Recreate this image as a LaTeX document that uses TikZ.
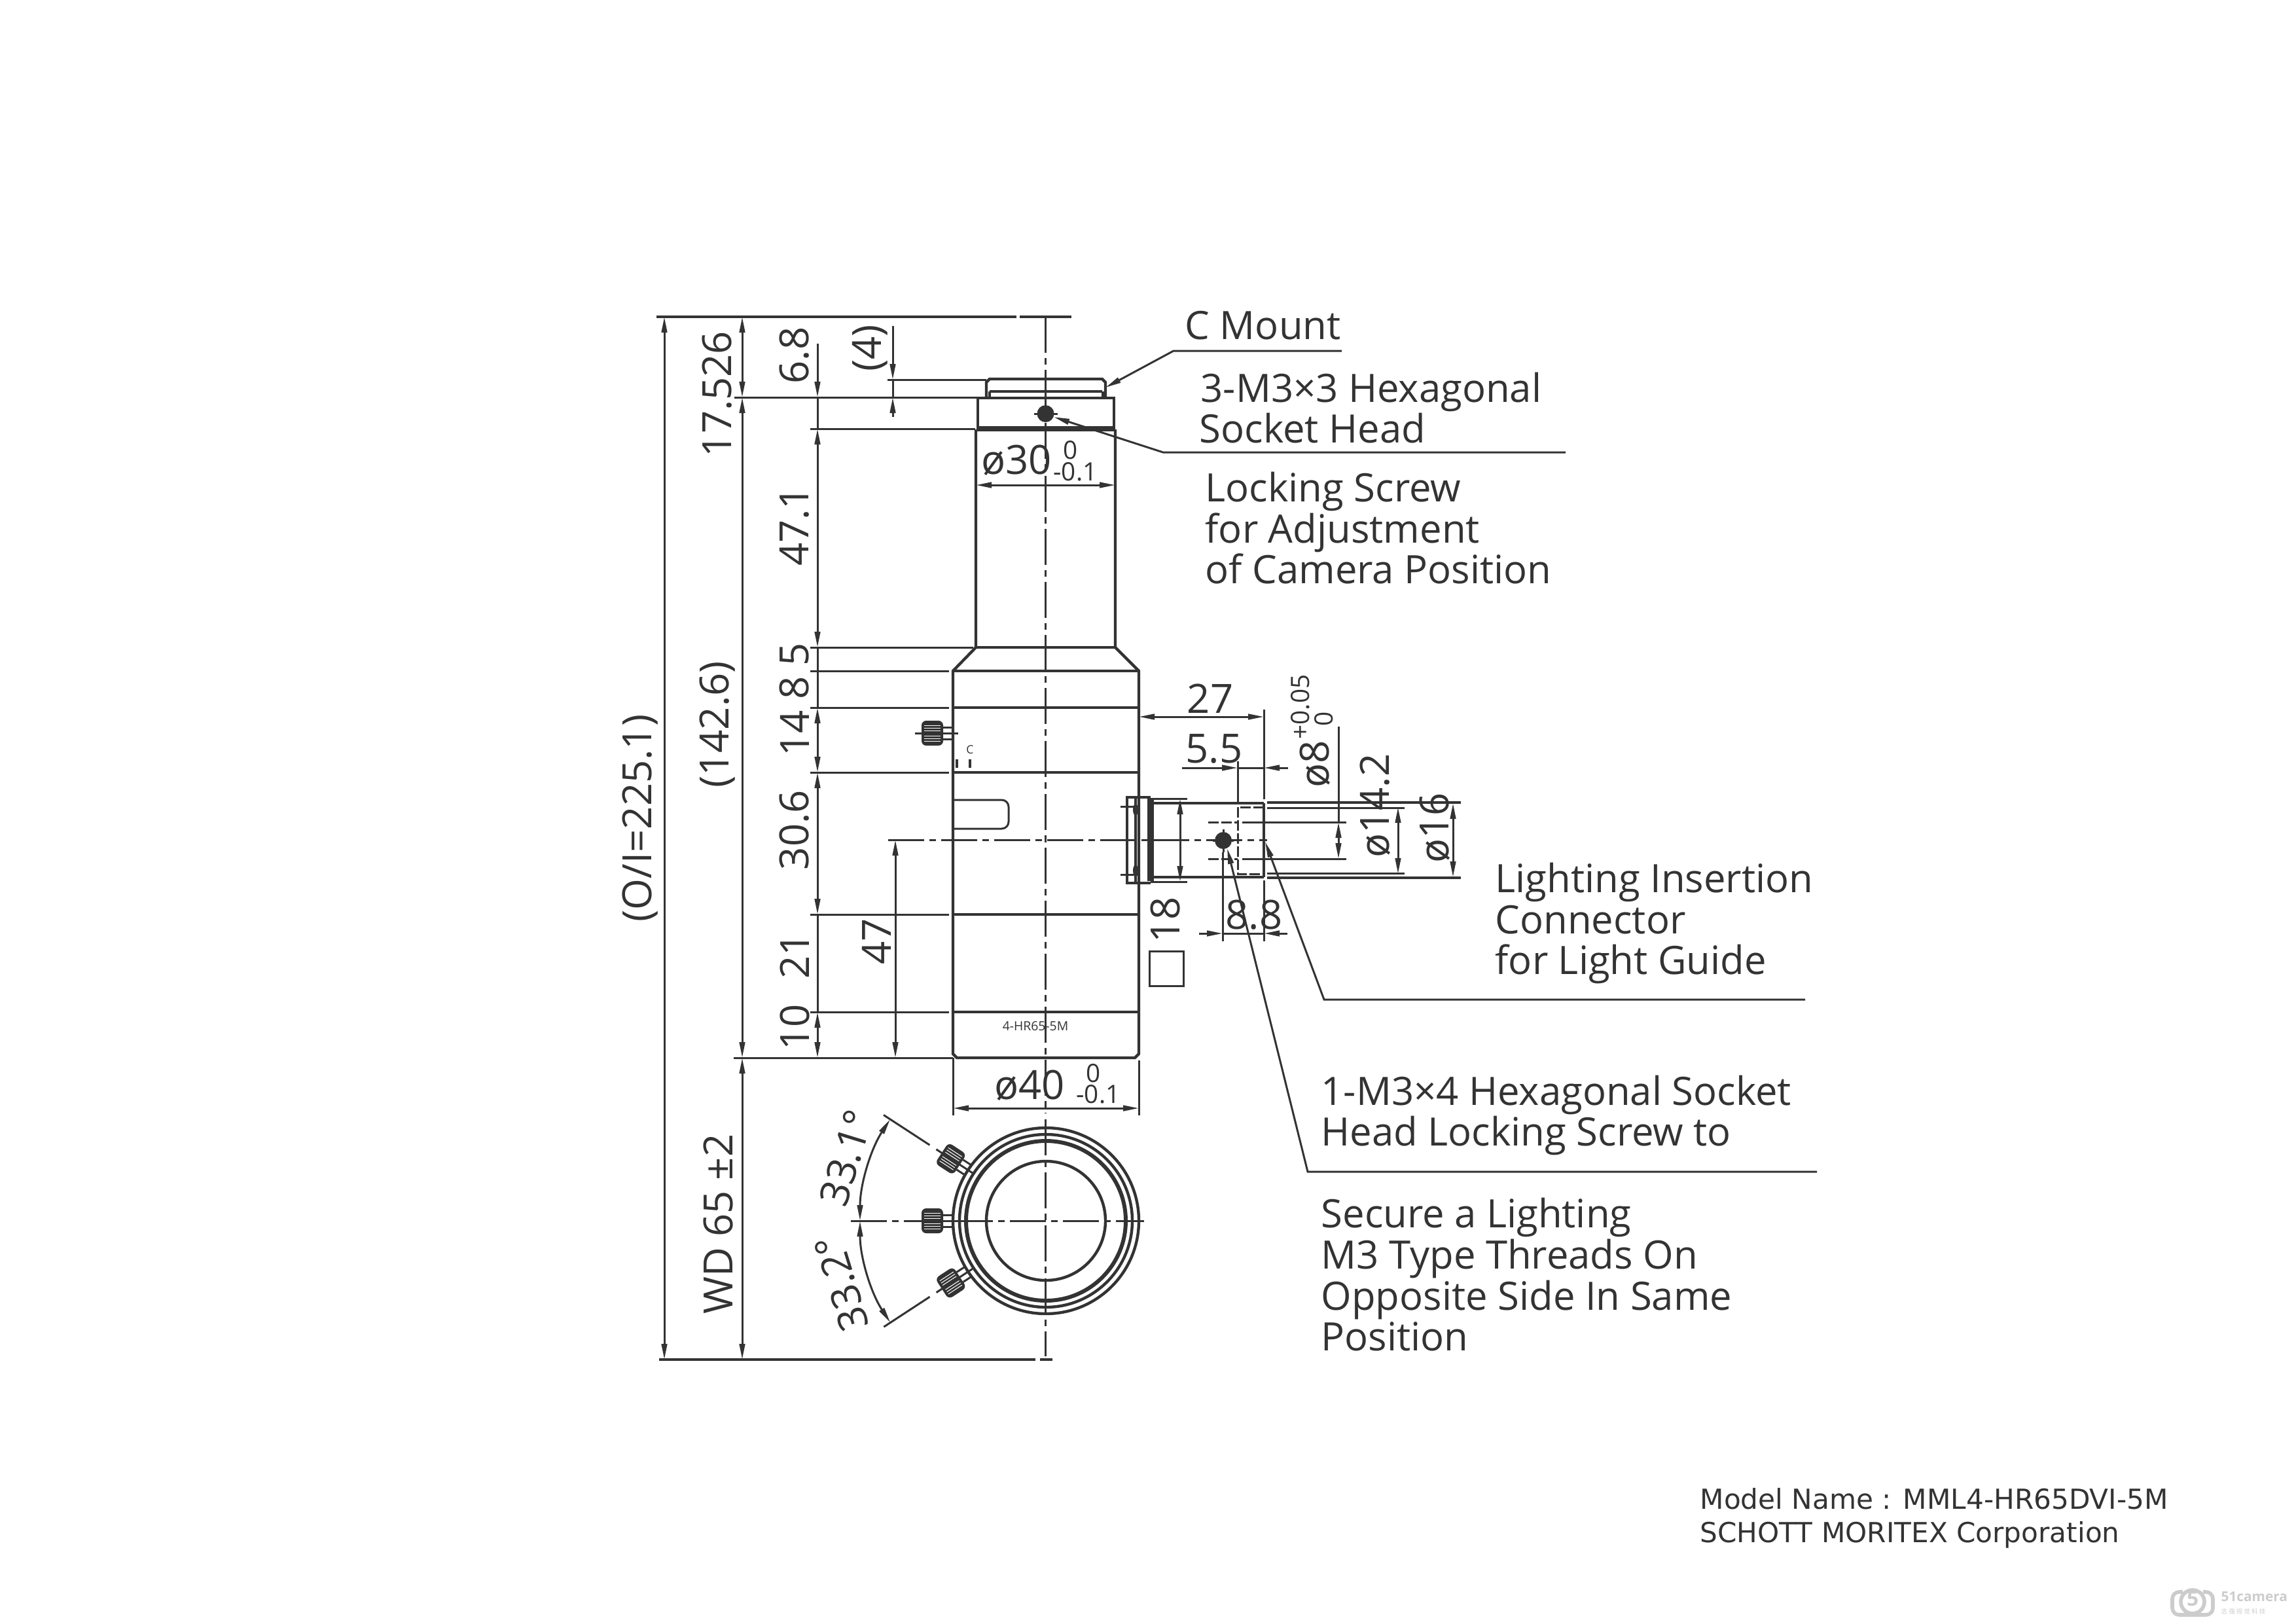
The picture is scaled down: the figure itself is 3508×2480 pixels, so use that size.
\documentclass[tikz,border=0pt]{standalone}
\usepackage{fontspec}
\setmainfont{Open Sans}
\newfontfamily\modelfont{DejaVu Sans}
\newfontfamily\markfont{Noto Sans CJK SC}
\usetikzlibrary{arrows.meta}
\definecolor{ink}{HTML}{333333}
\definecolor{markgray}{HTML}{CCCCCC}

\tikzset{
  outline/.style={line width=1.25pt, color=ink},
  thin line/.style={line width=0.85pt, color=ink},
  dim/.style={thin line, {Triangle[length=0.24cm,width=0.085cm]}-{Triangle[length=0.24cm,width=0.085cm]}},
  tipend/.style={thin line, -{Triangle[length=0.24cm,width=0.085cm]}},
  axis/.style={thin line, dash pattern=on 0.55cm off 0.08cm on 0.1cm off 0.08cm},
  hidden/.style={thin line, dash pattern=on 0.16cm off 0.04cm},
  dimtext/.style={inner sep=0pt, text=ink, font=\fontsize{17.5}{20}\selectfont},
  toltext/.style={inner sep=0pt, text=ink, font=\fontsize{11}{12}\selectfont},
  calltext/.style={inner sep=0pt, text=ink, anchor=base west, font=\fontsize{17}{20}\selectfont},
  modeltext/.style={inner sep=0pt, text=ink, anchor=base west, font=\modelfont\fontsize{12}{14}\selectfont},
  setscrew/.pic={
    \fill[ink, rounded corners=2pt] (-190,-19) rectangle (-157,19);
    \foreach \k in {-12,-8,...,12}
      \draw[white, line width=0.3pt] (-186,\k) -- (-161,\k);
    \draw[thin line] (-157,-9) -- (-142,-9);
    \draw[thin line] (-157,9) -- (-142,9);
    \draw[thin line] (-200,0) -- (-134,0);
  }
}

\begin{document}
\begin{tikzpicture}[x=0.01cm, y=-0.01cm]
  \useasboundingbox (0,0) rectangle (3508,2480);

  % lens body
  \draw[outline] (1507,607) -- (1507,584) -- (1512,579) -- (1684,579) -- (1689,584) -- (1689,607);
  \draw[outline] (1512,598) -- (1684,598);
  \draw[outline] (1512,598) -- (1512,607);
  \draw[outline] (1685,598) -- (1685,607);
  \draw[outline] (1494,655) -- (1494,608) -- (1702,608) -- (1702,655);
  \draw[line width=2.4pt, ink] (1492,655) -- (1704,655);
  \draw[outline] (1491,656) -- (1491,989) -- (1456,1025) -- (1456,1610) -- (1462,1616) -- (1734,1616) -- (1740,1610) -- (1740,1025) -- (1704,989) -- (1704,656);
  \draw[outline] (1491,989) -- (1704,989);
  \foreach \y in {1025,1081,1180,1397,1546}
    \draw[outline] (1456,\y) -- (1740,\y);

  % slot and small marks
  \draw[thin line, rounded corners=3pt] (1456,1222) -- (1541,1222) -- (1541,1266) -- (1456,1266);
  \node[inner sep=0pt, text=ink, font=\fontsize{5}{6}\selectfont] at (1482,1145) (cmark) {C};
  \fill[ink] (1460,1160) rectangle (1464,1173);
  \fill[ink] (1480,1160) rectangle (1484,1173);
  \node[inner sep=0pt, text=ink, font=\fontsize{5.5}{6}\selectfont] at (1582,1568) (engrave) {4-HR65-5M};

  % light guide port
  \draw[outline] (1722,1218) rectangle (1735,1349);
  \draw[line width=2.6pt, ink] (1758,1220) -- (1758,1346);
  \draw[outline] (1722,1218) -- (1758,1218);
  \draw[outline] (1722,1349) -- (1758,1349);
  \draw[thin line] (1758,1220) -- (1814,1220);
  \draw[thin line] (1758,1347) -- (1814,1347);
  \draw[thin line] (1712,1232) -- (1741,1232);
  \draw[thin line] (1712,1336) -- (1741,1336);
  \fill[ink] (1735,1237) ellipse (4 and 9);
  \fill[ink] (1735,1330) ellipse (4 and 9);
  \draw[outline] (1759,1227) -- (1931,1227);
  \draw[outline] (1936,1226) -- (2232,1226);
  \draw[outline] (1759,1340) -- (1931,1340);
  \draw[outline] (1936,1341) -- (2232,1341);
  \draw[thin line] (1936,1234) -- (2146,1234);
  \draw[thin line] (1936,1334) -- (2146,1334);
  \draw[hidden] (1931,1233) -- (1891,1233) -- (1891,1335) -- (1931,1335);
  \draw[hidden] (1846,1256) -- (1891,1256);
  \draw[hidden] (1846,1312) -- (1891,1312);
  \draw[thin line] (1898,1256) -- (2057,1256);
  \draw[thin line] (1898,1312) -- (2057,1312);
  \draw[outline] (1931,1227) -- (1931,1340);
  \draw[axis] (1357,1283) -- (1936,1283);
  \draw[thin line] (1869,1267) -- (1869,1302);
  \fill[ink] (1869,1284) ellipse (13 and 13);
  \draw[thin line] (1853,1284) -- (1885,1284);

  % centre line and adjustment screw
  \draw[axis] (1597.5,484) -- (1597.5,1700);
  \draw[axis] (1597.5,1710) -- (1597.5,2072);
  \fill[ink] (1597.5,632) ellipse (13 and 13);
  \draw[thin line] (1580,632) -- (1616,632);
  \pic at (1598,1120) {setscrew};

  % end view
  \coordinate (hub) at (1598,1865);
  \draw[outline] (hub) circle[radius=142];
  \draw[outline] (hub) circle[radius=132];
  \draw[line width=1.7pt, ink] (hub) circle[radius=122];
  \draw[outline] (hub) circle[radius=91];
  \pic at (hub) {setscrew};
  \pic[rotate=-33.1] at (hub) {setscrew};
  \pic[rotate=33.2] at (hub) {setscrew};
  \draw[axis] (1300,1865) -- (1748,1865);

  % angle marks
  \draw[thin line] (hub) ++(213.1:296) -- ++(33.1:84);
  \draw[thin line] (hub) ++(146.8:296) -- ++(-33.2:84);
  \draw[dim] (hub) ++(180:284) arc[start angle=180, end angle=213.1, radius=284];
  \draw[dim] (hub) ++(180:284) arc[start angle=180, end angle=146.8, radius=284];
  \node[dimtext, rotate=73] at (1293,1769) (angup) {33.1°};
  \node[dimtext, rotate=107] at (1286,1961) (angdown) {33.2°};

  % extension lines
  \draw[outline] (1003,484) -- (1553,484);
  \draw[outline] (1558,484) -- (1637,484);
  \draw[thin line] (1356,580) -- (1507,580);
  \draw[thin line] (1122,607) -- (1492,607);
  \draw[thin line] (1238,655) -- (1490,655);
  \draw[thin line] (1238,989) -- (1487,989);
  \draw[thin line] (1238,1025) -- (1450,1025);
  \draw[thin line] (1238,1081) -- (1450,1081);
  \draw[thin line] (1238,1180) -- (1450,1180);
  \draw[thin line] (1238,1397) -- (1450,1397);
  \draw[thin line] (1238,1546) -- (1450,1546);
  \draw[thin line] (1121,1616) -- (1456,1616);
  \draw[outline] (1007,2077) -- (1582,2077);
  \draw[outline] (1589,2077) -- (1608,2077);
  \draw[thin line] (1456,1616) -- (1456,1704);
  \draw[thin line] (1740,1620) -- (1740,1704);
  \draw[thin line] (1931,1084) -- (1931,1221);
  \draw[thin line] (1931,1345) -- (1931,1438);
  \draw[thin line] (1891,1163) -- (1891,1227);
  \draw[thin line] (1868,1302) -- (1868,1438);

  % vertical dimensions
  \draw[dim] (1015,484) -- (1015,2077);
  \draw[dim] (1134,484) -- (1134,607);
  \draw[dim] (1134,607) -- (1134,1616);
  \draw[dim] (1134,1616) -- (1134,2077);
  \draw[tipend] (1249,525) -- (1249,607);
  \draw[dim] (1249,655) -- (1249,989);
  \draw[thin line] (1249,607) -- (1249,655);
  \draw[thin line] (1249,989) -- (1249,1081);
  \draw[dim] (1249,1081) -- (1249,1180);
  \draw[dim] (1249,1180) -- (1249,1397);
  \draw[thin line] (1249,1397) -- (1249,1546);
  \draw[dim] (1249,1546) -- (1249,1616);
  \draw[tipend] (1364,498) -- (1364,580);
  \draw[tipend] (1364,637) -- (1364,607);
  \draw[thin line] (1364,580) -- (1364,607);
  \draw[dim] (1368,1283) -- (1368,1616);
  \draw[dim] (1803,1220) -- (1803,1347);
  \draw[thin line] (2045,1110) -- (2045,1256);
  \draw[dim] (2045,1256) -- (2045,1312);
  \draw[dim] (2136,1233) -- (2136,1335);
  \draw[dim] (2220,1227) -- (2220,1340);

  % horizontal dimensions
  \draw[dim] (1491,741) -- (1704,741);
  \draw[dim] (1456,1693) -- (1740,1693);
  \draw[dim] (1740,1095) -- (1931,1095);
  \draw[tipend] (1806,1173) -- (1891,1173);
  \draw[tipend] (1968,1173) -- (1931,1173);
  \draw[thin line] (1891,1173) -- (1931,1173);
  \draw[tipend] (1832,1426) -- (1868,1426);
  \draw[tipend] (1967,1426) -- (1931,1426);
  \draw[thin line] (1868,1426) -- (1931,1426);

  % dimension values
  \node[dimtext, rotate=90] at (978,1250) (overall) {(O/I=225.1)};
  \node[dimtext, rotate=90] at (1096,602) (flange) {17.526};
  \node[dimtext, rotate=90] at (1096,1107) (length) {(142.6)};
  \node[dimtext, rotate=90] at (1098,1870) (wd) {WD 65 ±2};
  \node[dimtext, rotate=90] at (1214,543) (mount) {6.8};
  \node[dimtext, rotate=90] at (1329,532) (screwpos) {(4)};
  \node[dimtext, rotate=90] at (1214,804) (tube) {47.1};
  \node[dimtext, rotate=90] at (1214,1025) (cone) {8 5};
  \node[dimtext, rotate=90] at (1214,1120) (ringa) {14};
  \node[dimtext, rotate=90] at (1214,1268) (ringb) {30.6};
  \node[dimtext, rotate=90] at (1214,1460) (ringc) {21};
  \node[dimtext, rotate=90] at (1214,1569) (ringd) {10};
  \node[dimtext, rotate=90] at (1339,1438) (height) {47};
  \node[dimtext, rotate=90] at (1780,1405) (square) {18};
  \draw[thin line] (1756,1453) rectangle (1808,1506);
  \node[dimtext] at (1553,703) (dthirty) {ø30};
  \node[toltext] at (1636,688) (dthirtyup) {0};
  \node[toltext] at (1643,721) (dthirtylow) {-0.1};
  \node[dimtext] at (1573,1658) (dforty) {ø40};
  \node[toltext] at (1671,1640) (dfortyup) {0};
  \node[toltext] at (1678,1672) (dfortylow) {-0.1};
  \node[dimtext] at (1849,1067) (portpos) {27};
  \node[dimtext] at (1855,1144) (holepos) {5.5};
  \node[dimtext] at (1916,1398) (screwoff) {8.8};
  \node[dimtext, rotate=90] at (2009,1167) (deight) {ø8};
  \node[toltext, rotate=90] at (1987,1080) (deightup) {+0.05};
  \node[toltext, rotate=90] at (2023,1098) (deightlow) {0};
  \node[dimtext, rotate=90] at (2101,1231) (dinner) {ø14.2};
  \node[dimtext, rotate=90] at (2192,1265) (douter) {ø16};

  % callouts
  \node[calltext] at (1810,518) (cmount) {C Mount};
  \node[calltext] at (1834,614) (hexa) {3-M3×3 Hexagonal};
  \node[calltext] at (1832,676) (hexb) {Socket Head};
  \node[calltext] at (1841,766) (locka) {Locking Screw};
  \node[calltext] at (1841,829) (lockb) {for Adjustment};
  \node[calltext] at (1841,891) (lockc) {of Camera Position};
  \node[calltext] at (2284,1363) (lighta) {Lighting Insertion};
  \node[calltext] at (2284,1426) (lightb) {Connector};
  \node[calltext] at (2284,1488) (lightc) {for Light Guide};
  \node[calltext] at (2018,1688) (sidea) {1-M3×4 Hexagonal Socket};
  \node[calltext] at (2018,1750) (sideb) {Head Locking Screw to};
  \node[calltext] at (2018,1875) (securea) {Secure a Lighting};
  \node[calltext] at (2018,1938) (secureb) {M3 Type Threads On};
  \node[calltext] at (2018,2001) (securec) {Opposite Side In Same};
  \node[calltext] at (2018,2063) (secured) {Position};

  % leaders
  \draw[tipend] (2050,536) -- (1793,536) -- (1689,592);
  \draw[tipend] (2392,691) -- (1777,691) -- (1610,637);
  \draw[tipend] (2758,1527) -- (2023,1527) -- (1933,1286);
  \draw[tipend] (2776,1790) -- (1998,1790) -- (1875,1296);

  % model note
  \node[modeltext] at (2597,2305) (modela) {Model Name : MML4-HR65DVI-5M};
  \node[modeltext] at (2597,2356) (modelb) {SCHOTT MORITEX Corporation};

  % corner mark
  \draw[markgray, line width=1.6pt, rounded corners=3pt] (3335,2432) -- (3319,2432) -- (3319,2467) -- (3381,2467) -- (3381,2432) -- (3366,2432);
  \draw[markgray, line width=1.6pt] (3350,2447) circle[radius=18];
  \node[inner sep=0pt, text=markgray, font=\fontsize{9}{10}\selectfont\bfseries] at (3350,2442) (markfive) {5};
  \node[inner sep=0pt, text=markgray, anchor=west, font=\fontsize{5.9}{8}\selectfont\bfseries] at (3393,2439) (markname) {51camera};
  \node[inner sep=0pt, text=markgray, anchor=west, font=\markfont\fontsize{2.7}{4}\selectfont] at (3393,2462) (markcn) {志 强 视 觉 科 技};
\end{tikzpicture}
\end{document}
